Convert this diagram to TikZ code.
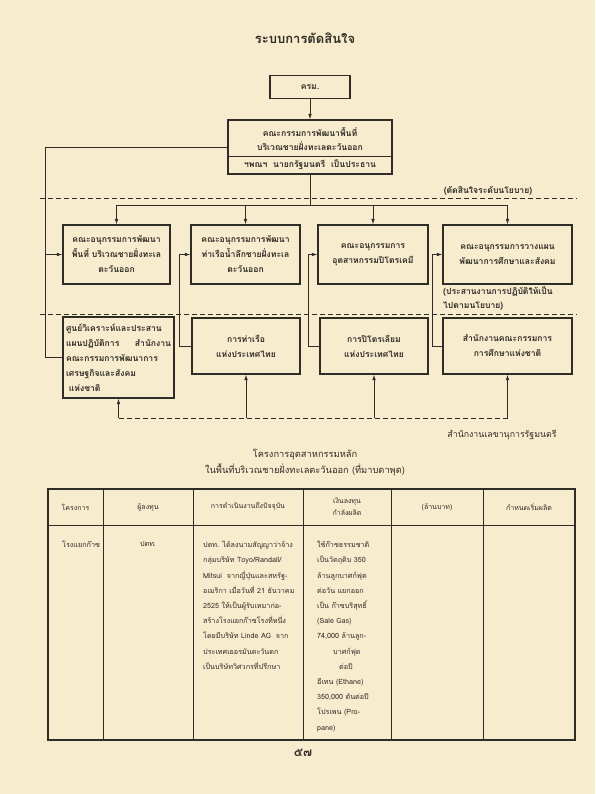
\documentclass[tikz,border=0pt]{standalone}
\usepackage{fontspec}
\newfontfamily\thai[Script=Thai]{Loma}
\usetikzlibrary{arrows.meta}
\definecolor{paper}{RGB}{247,236,205}
\definecolor{ink}{RGB}{48,44,40}
\begin{document}
\begin{tikzpicture}[x=1pt,y=-1pt,
  ln/.style={draw=ink,line width=0.9pt},
  arr/.style={ln,-{Latex[length=5.5pt,width=3.6pt]}},
  dsh/.style={draw=ink,line width=0.8pt,dash pattern=on 5pt off 3pt},
  box/.style={draw=ink,line width=1.1pt,inner sep=2pt,align=center,text=ink,
     font=\thai\bfseries\fontsize{8.6}{15}\selectfont},
  lab/.style={inner sep=0pt,text=ink,font=\thai\bfseries\fontsize{8.6}{14}\selectfont},
  tl/.style={inner sep=0pt,text=ink,font=\thai\fontsize{7.2}{15.2}\selectfont},
  th/.style={inner sep=0pt,text=ink,align=center,font=\thai\fontsize{7}{12}\selectfont}]
\fill[paper] (0,0) rectangle (595,794);
\useasboundingbox (0,0) rectangle (595,794);

% title
\node[lab,font=\thai\bfseries\fontsize{13}{15}\selectfont] (title) at (305,38) {ระบบการตัดสินใจ};

% top boxes
\node[box,minimum width=80pt,minimum height=23pt] (krm) at (310,87) {ครม.};
\node[box,minimum width=164pt,minimum height=54pt] (main) at (310,147) {};
\coordinate (divy) at (0,156);
\draw[ln] (main.west |- divy) -- (main.east |- divy);
\node[lab,align=center] (maintxt) at (310,139) {คณะกรรมการพัฒนาพื้นที่\\บริเวณชายฝั่งทะเลตะวันออก};
\node[lab] (chair) at (310,165) {ฯพณฯ\ \ นายกรัฐมนตรี\ \ เป็นประธาน};
\draw[arr] (krm.south) -- (main.north);

% dashed level lines
\coordinate (d1a) at (40,198); \coordinate (d1b) at (577,198);
\coordinate (d2a) at (40,314); \coordinate (d2b) at (577,314);
\draw[dsh] (d1a) -- (d1b);
\draw[dsh] (d2a) -- (d2b);
\node[lab,anchor=south] (lev1) at (488,196) {(ตัดสินใจระดับนโยบาย)};

% row 1 boxes
\node[box,minimum width=107pt,minimum height=59pt] (box1) at (116.5,254.5) {คณะอนุกรรมการพัฒนา\\พื้นที่ บริเวณชายฝั่งทะเล\\ตะวันออก};
\node[box,minimum width=109pt,minimum height=59pt] (box2) at (245.5,254.5) {คณะอนุกรรมการพัฒนา\\ท่าเรือน้ำลึกชายฝั่งทะเล\\ตะวันออก};
\node[box,minimum width=110pt,minimum height=59pt] (box3) at (373,254.5) {คณะอนุกรรมการ\\อุตสาหกรรมปิโตรเคมี};
\node[box,minimum width=129pt,minimum height=59pt] (box4) at (507.5,254.5) {คณะอนุกรรมการวางแผน\\พัฒนาการศึกษาและสังคม};
\node[lab,anchor=north west,align=left] (lev2) at (443,286) {(ประสานงานการปฏิบัติให้เป็น\\ไปตามนโยบาย)};

% distribution bus
\coordinate (bus) at (0,205);
\draw[ln] (main.south) -- (main.south |- bus);
\draw[ln] (box1.north |- bus) -- (box4.north |- bus);
\foreach \b in {box1,box2,box3,box4} \draw[arr] (\b.north |- bus) -- (\b.north);

% row 2 boxes
\node[box,minimum width=111pt,minimum height=81pt,align=left,text width=105pt] (box5) at (118.5,357.5) {ศูนย์วิเคราะห์และประสาน\\แผนปฏิบัติการ\hfill สำนักงาน\\คณะกรรมการพัฒนาการ\\เศรษฐกิจและสังคม\\\ แห่งชาติ};
\node[box,minimum width=108pt,minimum height=56pt] (box6) at (246,346) {การท่าเรือ\\แห่งประเทศไทย};
\node[box,minimum width=108pt,minimum height=56pt] (box7) at (374,346) {การปิโตรเลียม\\แห่งประเทศไทย};
\node[box,minimum width=129pt,minimum height=56pt] (box8) at (507.5,346) {สำนักงานคณะกรรมการ\\การศึกษาแห่งชาติ};

% left feed line
\coordinate (lcol) at (45,0);
\draw[ln] (main.west) -| (lcol |- box5.west) -- (box5.west);
\draw[arr] (lcol |- box1.west) -- (box1.west);

% side links from agencies to sub-committees
\coordinate (c6) at (179,0); \coordinate (c7) at (308,0); \coordinate (c8) at (432,0);
\draw[arr] (box6.west) -- (c6 |- box6.west) |- (box2.west);
\draw[arr] (box7.west) -- (c7 |- box7.west) |- (box3.west);
\draw[arr] (box8.west) -- (c8 |- box8.west) |- (box4.west);

% bottom secretariat line
\coordinate (bot) at (0,418);
\draw[dsh] (box5.south |- bot) -- (box8.south |- bot);
\foreach \b in {box5,box6,box7,box8} \draw[arr] (\b.south |- bot) -- (\b.south);
\node[lab,font=\thai\fontsize{8.8}{10}\selectfont] (secr) at (502,435) {สำนักงานเลขานุการรัฐมนตรี};

% table title
\node[lab,font=\thai\fontsize{9.3}{10}\selectfont] (tt1) at (305,455) {โครงการอุตสาหกรรมหลัก};
\node[lab,font=\thai\fontsize{9.3}{10}\selectfont] (tt2) at (305,470) {ในพื้นที่บริเวณชายฝั่งทะเลตะวันออก (ที่มาบตาพุด)};

% table frame
\draw[draw=ink,line width=1.4pt] (48,489) rectangle (575,740);
\draw[ln] (48,525) -- (575,525);
\foreach \x in {103,193,303,391,483} \draw[ln] (\x,489) -- (\x,740);

% header
\node[th] (h1) at (75.5,507) {โครงการ};
\node[th] (h2) at (148,507) {ผู้ลงทุน};
\node[th] (h3) at (248,507) {การดำเนินงานถึงปัจจุบัน};
\node[th] (h4) at (347,507) {เงินลงทุน\\กำลังผลิต};
\node[th] (h5) at (437,507) {(ล้านบาท)};
\node[th] (h6) at (529,507) {กำหนดเริ่มผลิต};

% body
\node[tl,anchor=north west] (r1) at (62,541) {โรงแยกก๊าซ};
\node[tl,anchor=north] (r2) at (148,541) {ปตท.};
\node[tl,anchor=north west,align=left] (r3) at (203,541) {ปตท. ได้ลงนามสัญญาว่าจ้าง\\กลุ่มบริษัท Toyo/Randall/\\Mitsui\ \ จากญี่ปุ่นและสหรัฐ-\\อเมริกา เมื่อวันที่ 21 ธันวาคม\\2525 ให้เป็นผู้รับเหมาก่อ-\\สร้างโรงแยกก๊าซโรงที่หนึ่ง\\โดยมีบริษัท Linde AG\ \ จาก\\ประเทศเยอรมันตะวันตก\\เป็นบริษัทวิศวกรที่ปรึกษา};
\node[tl,anchor=north west,align=left] (r4) at (317,541) {ใช้ก๊าซธรรมชาติ\\เป็นวัตถุดิบ 350\\ล้านลูกบาศก์ฟุต\\ต่อวัน แยกออก\\เป็น ก๊าซบริสุทธิ์\\(Sale Gas)\\74,000 ล้านลูก-\\\hspace*{16pt}บาศก์ฟุต\\\hspace*{22pt}ต่อปี\\อีเทน (Ethane)\\350,000 ตันต่อปี\\โปรเพน (Pro-\\pane)};

% page number
\node[lab,font=\thai\bfseries\fontsize{12}{13}\selectfont] (pg) at (303,753) {๕๗};
\end{tikzpicture}
\end{document}
